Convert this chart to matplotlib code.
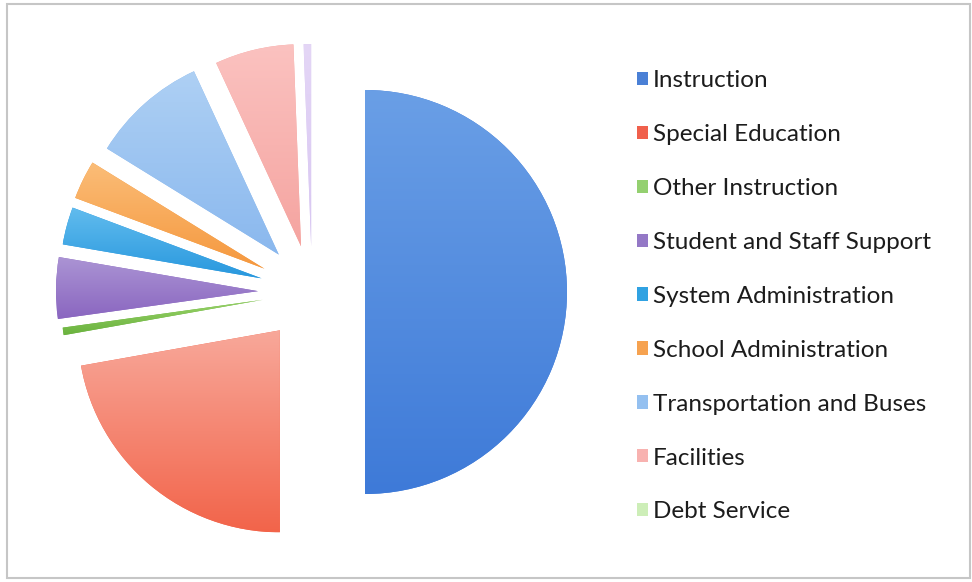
import matplotlib
matplotlib.use("Agg")

import matplotlib.pyplot as plt
import numpy as np
from matplotlib.colors import LinearSegmentedColormap
from matplotlib.patches import Patch, Rectangle

# ─── Data ────────────────────────────────────────────────────────────────
CATEGORIES = [
    "Instruction",
    "Special Education",
    "Other Instruction",
    "Student and Staff Support",
    "System Administration",
    "School Administration",
    "Transportation and Buses",
    "Facilities",
    "Debt Service",
]
SHARES = [50.0, 22.2, 0.6, 4.9, 3.0, 3.1, 9.3, 6.3, 0.6]

# ─── Style ───────────────────────────────────────────────────────────────
SLICE_TOP = ["#6a9fe6", "#f8a89a", "#9ad46a", "#ab94d4", "#62bcee",
             "#fbbd78", "#aed0f4", "#fbc2c0", "#e4d6f6"]
SLICE_BOTTOM = ["#3e7ad8", "#f2644a", "#6ab23e", "#8a66c0", "#2898de",
                "#f5983e", "#8ab8ee", "#f5a4a0", "#d8c6f2"]
LEGEND_COLORS = ["#4a80d6", "#f0604c", "#94d070", "#9478c6", "#30a2e2",
                 "#f6a250", "#94c0f0", "#f8b2b0", "#cdeeb8"]
TEXT_COLOR = "#1c1c1c"
BORDER_COLOR = "#c6c6c6"

W, H = 972, 582
CENTER = (312, H - 292)
RADIUS = 202
EXPLODE_PX = [53, 50, 50, 54, 52, 53, 50, 47, 46]

fig = plt.figure(figsize=(W / 100, H / 100), dpi=100, facecolor="white")
ax = fig.add_axes([0, 0, 1, 1])

wedges, _ = ax.pie(
    SHARES, explode=EXPLODE_PX, center=CENTER, radius=RADIUS,
    startangle=90, counterclock=False, colors=SLICE_BOTTOM,
    wedgeprops=dict(linewidth=0),
)

# vertical gradient inside every slice (lighter at the top)
grad = np.linspace(0, 1, 256)[:, None]
for w, top, bot in zip(wedges, SLICE_TOP, SLICE_BOTTOM):
    bb = w.get_path().get_extents()
    cmap = LinearSegmentedColormap.from_list("g", [top, bot])
    im = ax.imshow(grad, cmap=cmap, extent=(bb.x0, bb.x1, bb.y0, bb.y1),
                   origin="upper", aspect="auto", zorder=w.get_zorder() + 0.1)
    im.set_clip_path(w)

ax.set_xlim(0, W)
ax.set_ylim(0, H)
ax.set_aspect("equal")
ax.axis("off")

# ─── Legend ──────────────────────────────────────────────────────────────
handles = [Patch(facecolor=c, edgecolor="none") for c in LEGEND_COLORS]
ax.legend(
    handles, CATEGORIES, loc="upper left",
    bbox_to_anchor=(637, H - 70), bbox_transform=ax.transData,
    frameon=False, prop=dict(family="Lato", size=17.5), labelcolor=TEXT_COLOR,
    labelspacing=1.355, handlelength=0.46, handleheight=0.46,
    handletextpad=0.2, borderpad=0, borderaxespad=0,
)

# chart frame
ax.add_patch(Rectangle((7, 4), 963, 574, fill=False,
                       edgecolor=BORDER_COLOR, lw=1.5))

fig.savefig("out.png", dpi=100, facecolor="white")
